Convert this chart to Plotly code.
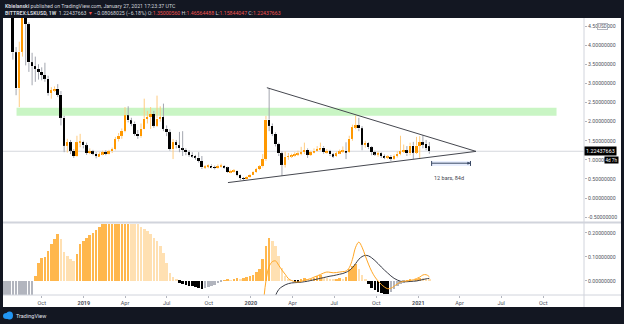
import plotly.graph_objects as go
import pandas as pd

# ---------------- data ----------------
week_start = "2018-07-30"
opens = [5.40, 3.81, 2.87, 3.83, 4.85, 4.55, 3.55, 3.45, 3.38, 3.30,
         3.22, 3.12, 2.75, 2.82, 2.86, 2.70, 2.10, 1.37, 1.46, 1.24,
         1.10, 1.46, 1.47, 1.38, 1.18, 1.22, 1.16, 1.10, 1.15, 1.20,
         1.16, 1.22, 1.28, 1.54, 1.63, 1.76, 2.16, 2.03, 1.95, 1.68,
         1.62, 1.81, 2.07, 2.12, 2.20, 1.89, 2.08, 2.12, 1.81, 1.72,
         1.28, 1.46, 1.38, 1.30, 1.26, 1.20, 1.13, 1.10, 1.06, 0.97,
         0.80, 0.82, 0.85, 0.81, 0.79, 0.83, 0.84, 0.80, 0.68, 0.70,
         0.71, 0.60, 0.52, 0.50, 0.55, 0.61, 0.68, 0.76, 0.83, 1.02,
         2.05, 1.89, 1.68, 1.41, 1.17, 0.87, 1.08, 1.10, 1.12, 1.14,
         1.16, 1.20, 1.26, 1.13, 1.20, 1.24, 1.28, 1.32, 1.20, 1.23,
         1.14, 1.10, 1.17, 1.22, 1.24, 1.20, 1.55, 1.85, 1.90, 1.82,
         1.40, 1.44, 1.33, 1.20, 1.15, 1.17, 1.10, 1.06, 1.08, 1.03,
         1.10, 1.16, 1.22, 1.25, 1.17, 1.37, 1.19, 1.37, 1.46, 1.42,
         1.35000560]
highs = [5.70, 3.95, 4.09, 5.30, 5.05, 4.60, 3.80, 3.70, 3.50, 3.42,
         3.54, 3.20, 2.90, 2.92, 2.98, 2.80, 2.15, 1.55, 1.52, 1.28,
         1.63, 1.68, 1.50, 1.45, 1.30, 1.26, 1.20, 1.20, 1.24, 1.25,
         1.26, 1.32, 1.60, 1.70, 1.82, 2.38, 2.40, 2.10, 2.00, 1.78,
         1.95, 2.60, 2.28, 2.38, 2.28, 2.68, 2.40, 2.47, 1.90, 1.80,
         1.54, 1.52, 1.73, 1.75, 1.30, 1.25, 1.20, 1.13, 1.20, 1.10,
         0.86, 0.88, 0.88, 0.85, 0.88, 0.90, 0.86, 0.82, 0.74, 0.76,
         0.72, 0.62, 0.55, 0.57, 0.63, 0.70, 0.79, 0.86, 1.15, 2.15,
         2.88, 1.95, 1.72, 1.45, 1.22, 1.22, 1.18, 1.16, 1.20, 1.24,
         1.34, 1.45, 1.30, 1.24, 1.30, 1.36, 1.45, 1.36, 1.28, 1.26,
         1.18, 1.22, 1.27, 1.35, 1.46, 1.63, 1.92, 2.16, 2.10, 1.88,
         1.50, 1.46, 1.36, 1.24, 1.22, 1.20, 1.14, 1.12, 1.12, 1.14,
         1.22, 1.63, 1.40, 1.36, 1.45, 1.47, 1.60, 1.62, 1.65, 1.52,
         1.46564488]
lows = [3.62, 2.69, 2.38, 3.70, 3.47, 3.30, 2.95, 3.04, 3.10, 3.08,
        3.04, 2.68, 2.60, 2.78, 2.64, 1.90, 1.20, 1.19, 1.15, 1.05,
        1.08, 1.33, 1.30, 1.13, 1.15, 1.12, 1.04, 1.08, 1.12, 1.12,
        1.14, 1.18, 1.25, 1.48, 1.55, 1.72, 1.98, 1.88, 1.63, 1.55,
        1.58, 1.80, 1.95, 1.81, 1.84, 1.86, 2.00, 1.75, 1.62, 1.24,
        1.02, 1.30, 1.20, 1.10, 1.12, 1.08, 1.05, 1.00, 0.93, 0.76,
        0.76, 0.78, 0.78, 0.75, 0.77, 0.80, 0.77, 0.66, 0.65, 0.67,
        0.57, 0.47, 0.47, 0.49, 0.53, 0.60, 0.66, 0.73, 0.80, 0.97,
        1.75, 1.62, 1.35, 1.10, 0.58, 0.80, 1.00, 1.05, 1.08, 1.10,
        1.12, 1.15, 1.05, 1.10, 1.17, 1.22, 1.24, 1.16, 1.16, 1.10,
        1.05, 1.08, 1.15, 1.18, 1.02, 1.18, 1.50, 1.80, 1.75, 1.25,
        1.32, 1.28, 1.12, 1.10, 1.08, 1.05, 1.02, 1.02, 0.97, 1.00,
        1.06, 1.12, 1.18, 1.10, 1.12, 1.02, 1.15, 1.02, 1.30, 1.25,
        1.15844047]
closes = [3.81, 2.87, 3.83, 4.85, 4.55, 3.55, 3.45, 3.38, 3.30, 3.22,
          3.12, 2.75, 2.82, 2.86, 2.70, 2.10, 1.37, 1.46, 1.24, 1.10,
          1.46, 1.47, 1.38, 1.18, 1.22, 1.16, 1.10, 1.15, 1.20, 1.16,
          1.22, 1.28, 1.54, 1.63, 1.76, 2.16, 2.03, 1.95, 1.68, 1.62,
          1.81, 2.07, 2.12, 2.20, 1.89, 2.08, 2.12, 1.81, 1.72, 1.28,
          1.46, 1.38, 1.30, 1.26, 1.20, 1.13, 1.10, 1.06, 0.97, 0.80,
          0.82, 0.85, 0.81, 0.79, 0.83, 0.84, 0.80, 0.68, 0.70, 0.71,
          0.60, 0.52, 0.50, 0.55, 0.61, 0.68, 0.76, 0.83, 1.02, 2.05,
          1.89, 1.68, 1.41, 1.17, 0.87, 1.08, 1.10, 1.12, 1.14, 1.16,
          1.20, 1.26, 1.13, 1.20, 1.24, 1.28, 1.32, 1.20, 1.23, 1.14,
          1.10, 1.17, 1.22, 1.24, 1.20, 1.55, 1.85, 1.90, 1.82, 1.40,
          1.44, 1.33, 1.20, 1.15, 1.17, 1.10, 1.06, 1.08, 1.03, 1.10,
          1.16, 1.22, 1.25, 1.17, 1.37, 1.19, 1.37, 1.46, 1.40, 1.3051,
          1.22437663]

hist_start = "2018-07-09"
macd_hist = [-0.20, -0.18, -0.16,
             -0.15, -0.14, -0.13, -0.12, -0.10, -0.08, -0.065,
             0.021, 0.076, 0.097, 0.100, 0.124, 0.152, 0.175, 0.193, 0.175, 0.120,
             0.104, 0.090, 0.083, 0.110, 0.152, 0.166, 0.180, 0.189, 0.200, 0.211,
             0.225, 0.235, 0.245, 0.255, 0.265, 0.274, 0.282, 0.289, 0.295, 0.300,
             0.295, 0.280, 0.239, 0.225, 0.217, 0.207, 0.193, 0.180, 0.166, 0.145,
             0.117, 0.076, 0.035, 0.018, 0.007, -0.007, -0.011, -0.015, -0.019, -0.022,
             -0.026, -0.030, -0.035, -0.031, -0.025, -0.020, -0.015, -0.010, -0.005, 0.004,
             0.007, 0.004, 0.010, 0.012, 0.010, 0.012, 0.015, 0.019, 0.026, 0.037,
             0.051, 0.090, 0.145, 0.180, 0.166, 0.145, 0.104, 0.055, 0.021, 0.007,
             0.003, -0.003, -0.004, 0.010, 0.014, 0.007, 0.010, 0.014, 0.021, 0.023,
             0.018, 0.012, 0.007, 0.005, 0.008, 0.011, 0.008, 0.018, 0.048, 0.062,
             0.069, 0.051, 0.023, 0.007, -0.014, -0.029, -0.037, -0.044, -0.048, -0.052,
             -0.055, -0.044, -0.033, -0.021, -0.013, -0.007, 0.003, 0.005, 0.004, 0.008,
             0.012, 0.012, 0.010, 0.007]

line_start = "2020-01-20"
macd_line = [-0.25, -0.12, 0.000, 0.060, 0.080, 0.083, 0.065, 0.045, 0.028, 0.010,
             0.002, -0.003, -0.004, -0.002, 0.003, 0.006, 0.010, 0.016, 0.021, 0.027,
             0.033, 0.037, 0.036, 0.034, 0.035, 0.037, 0.039, 0.041, 0.055, 0.090,
             0.140, 0.161, 0.140, 0.105, 0.070, 0.040, 0.017, 0.000, -0.014, -0.025,
             -0.032, -0.030, -0.022, -0.012, -0.005, -0.001, 0.000, 0.002, 0.005, 0.010,
             0.016, 0.025, 0.026, 0.018]
signal_line = [-0.30, -0.25, -0.20, -0.15, -0.10, -0.06, -0.035, -0.024, -0.016, -0.011,
               -0.008, -0.007, -0.006, -0.005, -0.003, -0.001, 0.002, 0.005, 0.008, 0.011,
               0.014, 0.017, 0.020, 0.022, 0.025, 0.028, 0.031, 0.036, 0.043, 0.055,
               0.072, 0.090, 0.101, 0.106, 0.104, 0.096, 0.085, 0.072, 0.058, 0.045,
               0.033, 0.021, 0.011, 0.004, -0.001, -0.003, -0.003, -0.002, -0.001, 0.000,
               0.003, 0.006, 0.009, 0.011]

price_ticks = [-0.5, 0.0, 0.5, 1.0, 1.5, 2.0, 2.5, 3.0, 3.5, 4.0, 4.5]
macd_ticks = [0.0, 0.1, 0.2]
time_ticks = ["2018-10-01", "2019-01-01", "2019-04-01", "2019-07-01", "2019-10-01",
              "2020-01-01", "2020-04-01", "2020-07-01", "2020-10-01", "2021-01-01",
              "2021-04-01", "2021-07-01", "2021-10-01"]
time_labels = ["Oct", "<b>2019</b>", "Apr", "Jul", "Oct", "<b>2020</b>", "Apr", "Jul",
               "Oct", "<b>2021</b>", "Apr", "Jul", "Oct"]

# drawings (user-drawn objects on the chart)
zone_dates = ["2018-08-07", "2021-10-30"]
zone_prices = [2.15, 2.36]
upper_trend = (["2020-02-05", "2021-05-07"], [2.887, 1.221])
lower_trend = (["2019-11-12", "2021-05-07"], [0.405, 1.221])
ruler_dates = ["2021-01-30", "2021-04-25"]
ruler_prices = [0.84, 0.97, 0.912]
last_price = 1.22437663

# ---------------- figure ----------------
dates = pd.date_range(week_start, periods=len(closes), freq="7D")
hdates = pd.date_range(hist_start, periods=len(macd_hist), freq="7D")
ldates = pd.date_range(line_start, periods=len(macd_line), freq="7D")
WEEK = 7 * 24 * 3600 * 1000

ORANGE = "#FF9800"
FONT = "Roboto"
AX = "#50535E"

fig = go.Figure()

wx_up, wy_up, wx_dn, wy_dn = [], [], [], []
for d, o, h, l, c in zip(dates, opens, highs, lows, closes):
    top, bot = max(o, c), min(o, c)
    xs, ys = (wx_up, wy_up) if c >= o else (wx_dn, wy_dn)
    xs += [d, d, None, d, d, None]
    ys += [l, bot, None, top, h, None]

fig.add_trace(go.Scatter(x=wx_up, y=wy_up, mode="lines", line=dict(color="#FFCC80", width=1),
                         xaxis="x", yaxis="y", hoverinfo="skip", showlegend=False))
fig.add_trace(go.Scatter(x=wx_dn, y=wy_dn, mode="lines", line=dict(color="#A3A6AF", width=1),
                         xaxis="x", yaxis="y", hoverinfo="skip", showlegend=False))

body_h = [max(abs(c - o), 0.012) for o, c in zip(opens, closes)]
body_b = [min(o, c) for o, c in zip(opens, closes)]
body_c = [ORANGE if c >= o else "#000000" for o, c in zip(opens, closes)]
fig.add_trace(go.Bar(x=dates, y=body_h, base=body_b, width=0.62 * WEEK,
                     marker=dict(color=body_c, line=dict(width=0)),
                     xaxis="x", yaxis="y", showlegend=False, hoverinfo="skip"))

hcol = []
prev = None
for v in macd_hist:
    if v >= 0:
        hcol.append("#FFB74D" if (prev is None or v > prev) else "#FFE0B2")
    else:
        hcol.append("#B2B5BE" if (prev is None or v > prev) else "#000000")
    prev = v
fig.add_trace(go.Bar(x=hdates, y=macd_hist, width=0.8 * WEEK,
                     marker=dict(color=hcol, line=dict(width=0)),
                     xaxis="x", yaxis="y2", showlegend=False, hoverinfo="skip"))
fig.add_trace(go.Scatter(x=ldates, y=signal_line, mode="lines", line=dict(color="#3A3D47", width=1, shape="spline"),
                         xaxis="x", yaxis="y2", showlegend=False, hoverinfo="skip"))
fig.add_trace(go.Scatter(x=ldates, y=macd_line, mode="lines", line=dict(color="#FFA726", width=1, shape="spline"),
                         xaxis="x", yaxis="y2", showlegend=False, hoverinfo="skip"))

# pixel geometry of the plot area (l=3, r=40, t=18, b=29 in a 624x324 page)
PW, PH = 581.0, 277.0
def px(xp):
    return (xp - 3) / PW
def py(yp):
    return (295 - yp) / PH

shapes = [
    dict(type="rect", xref="paper", yref="paper", x0=0, x1=px(621), y0=py(307), y1=1,
         fillcolor="#FFFFFF", line=dict(width=0), layer="below"),
    dict(type="rect", xref="x", yref="y", x0=zone_dates[0], x1=zone_dates[1],
         y0=zone_prices[0], y1=zone_prices[1], fillcolor="#C9F5C4", line=dict(width=0), layer="below"),
    dict(type="line", xref="paper", yref="y", x0=0, x1=1, y0=last_price, y1=last_price,
         line=dict(color="#D5D7DD", width=1), layer="below"),
    dict(type="line", xref="x", yref="y", x0=upper_trend[0][0], x1=upper_trend[0][1],
         y0=upper_trend[1][0], y1=upper_trend[1][1], line=dict(color="#45474F", width=1)),
    dict(type="line", xref="x", yref="y", x0=lower_trend[0][0], x1=lower_trend[0][1],
         y0=lower_trend[1][0], y1=lower_trend[1][1], line=dict(color="#45474F", width=1)),
    dict(type="rect", xref="x", yref="y", x0=ruler_dates[0], x1=ruler_dates[1],
         y0=ruler_prices[0], y1=ruler_prices[1], fillcolor="rgba(41,98,255,0.10)", line=dict(width=0)),
    dict(type="line", xref="x", yref="y", x0=ruler_dates[0], x1=ruler_dates[1],
         y0=ruler_prices[2], y1=ruler_prices[2], line=dict(color="#3B4A66", width=1)),
    dict(type="line", xref="x", yref="y", x0=ruler_dates[0], x1=ruler_dates[0],
         y0=ruler_prices[0], y1=ruler_prices[1], line=dict(color="#3B4A66", width=1)),
    dict(type="line", xref="x", yref="y", x0=ruler_dates[1], x1=ruler_dates[1],
         y0=ruler_prices[0], y1=ruler_prices[1], line=dict(color="#3B4A66", width=1)),
    # pane separators
    dict(type="line", xref="paper", yref="paper", x0=0, x1=px(621), y0=py(222.5), y1=py(222.5),
         line=dict(color="#D1D4DC", width=2)),
    dict(type="line", xref="paper", yref="paper", x0=0, x1=px(621), y0=0, y1=0,
         line=dict(color="#D1D4DC", width=1)),
    dict(type="line", xref="paper", yref="paper", x0=1, x1=1, y0=py(307), y1=1,
         line=dict(color="#D1D4DC", width=1)),
    # logo cloud
    dict(type="circle", xref="paper", yref="paper", x0=px(3), x1=px(10), y0=py(319), y1=py(313),
         fillcolor="#2196F3", line=dict(width=0)),
    dict(type="circle", xref="paper", yref="paper", x0=px(6), x1=px(13), y0=py(319.5), y1=py(311.5),
         fillcolor="#2196F3", line=dict(width=0)),
]

RED = "#EF5350"
hdr1 = "<b>Kbielanski</b> published on TradingView.com, January 27, 2021 17:23:37 UTC"
hdr2 = ("<b>BITTREX:LSKUSD, 1W</b>  1.22437663 <span style='color:%s'>▼</span> −0.08068025 (−6.18%%) "
        "O:<span style='color:%s'>1.35000560</span> H:<span style='color:%s'>1.46564488</span> "
        "L:<span style='color:%s'>1.15844047</span> C:<span style='color:%s'>1.22437663</span>"
        % (RED, RED, RED, RED, RED))

annotations = [
    dict(text=hdr1, xref="paper", yref="paper", x=0, y=py(5.7), xanchor="left", yanchor="middle",
         showarrow=False, font=dict(family=FONT, size=5.2, color="#D1D4DC")),
    dict(text=hdr2, xref="paper", yref="paper", x=0, y=py(13.3), xanchor="left", yanchor="middle",
         showarrow=False, font=dict(family=FONT, size=5.2, color="#D1D4DC")),
    dict(text="TradingView", xref="paper", yref="paper", x=px(14), y=py(316), xanchor="left",
         yanchor="middle", showarrow=False, font=dict(family=FONT, size=5.5, color="#E0E3EB")),
    dict(text="12 bars, 84d", xref="x", yref="y", x="2021-03-10", y=0.53, xanchor="center",
         yanchor="middle", showarrow=False, font=dict(family=FONT, size=5.5, color="#434651")),
    dict(text="", xref="x", yref="y", x=ruler_dates[1], y=ruler_prices[2], ax=-5, ay=0,
         showarrow=True, arrowhead=2, arrowsize=0.6, arrowwidth=1, arrowcolor="#3B4A66"),
    dict(text="USD", xref="paper", yref="y", x=px(602.5), y=4.5, xanchor="center", yanchor="middle",
         showarrow=False, bgcolor="#FFFFFF", bordercolor="#B2B5BE", borderwidth=1, borderpad=0,
         font=dict(family=FONT, size=4.6, color=AX)),
    dict(text="1.22437663", xref="paper", yref="y", x=1, y=last_price, xanchor="left", yanchor="middle",
         showarrow=False, bgcolor="#000000", borderpad=1, font=dict(family=FONT, size=5.4, color="#FFFFFF")),
    dict(text="4d 7h", xref="paper", yref="y", x=px(618.5), y=1.0, xanchor="right", yanchor="middle",
         showarrow=False, bgcolor="#000000", borderpad=0.5, font=dict(family=FONT, size=4.6, color="#FFFFFF")),
]

fig.update_layout(
    width=624, height=324,
    margin=dict(l=3, r=40, t=18, b=29),
    paper_bgcolor="#131722", plot_bgcolor="#FFFFFF",
    barmode="overlay", bargap=0,
    showlegend=False,
    xaxis=dict(type="date", range=["2018-07-08 10:00", "2021-12-29"], anchor="y2",
               tickvals=time_ticks, ticktext=time_labels, ticks="outside", ticklen=2,
               tickcolor="#B2B5BE", tickfont=dict(family=FONT, size=5.5, color=AX),
               showgrid=False, zeroline=False, showline=False, fixedrange=True),
    yaxis=dict(domain=[py(221), 1], range=[-0.60, 4.71], side="right", anchor="x",
               tickvals=price_ticks, ticktext=["%.8f" % v for v in price_ticks],
               ticks="outside", ticklen=2, tickcolor="#B2B5BE",
               tickfont=dict(family=FONT, size=5.2, color=AX),
               showgrid=False, zeroline=False, showline=False),
    yaxis2=dict(domain=[0, py(224)], range=[-0.058, 0.236], side="right", anchor="x",
                tickvals=macd_ticks, ticktext=["%.8f" % v for v in macd_ticks],
                ticks="outside", ticklen=2, tickcolor="#B2B5BE",
                tickfont=dict(family=FONT, size=5.2, color=AX),
                showgrid=False, zeroline=False, showline=False),
    shapes=shapes,
    annotations=annotations,
)

fig.write_html("out.html")
